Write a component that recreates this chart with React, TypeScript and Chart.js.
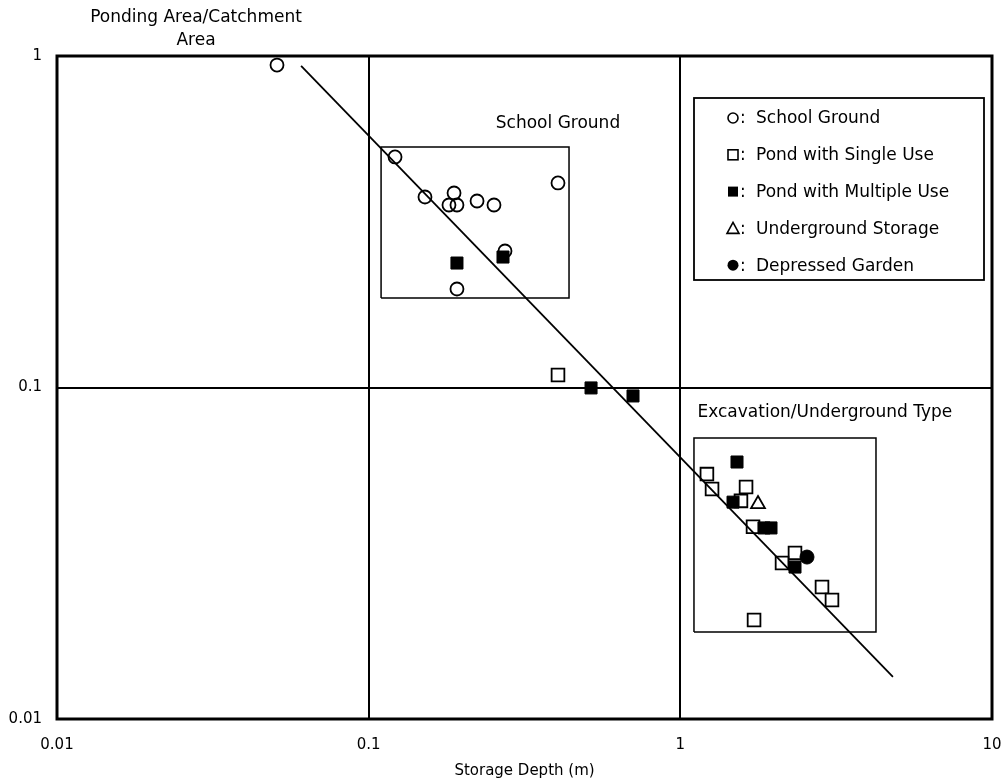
import React, { useEffect, useRef } from "react";
import { Chart, registerables } from "chart.js";

Chart.register(...registerables);

// ---- Data (storage depth in m, ponding area / catchment area) ----
const schoolGroundX = [0.0508, 0.1215, 0.1516, 0.1879, 0.181, 0.192, 0.2227, 0.2524, 0.405, 0.2738, 0.192];
const schoolGroundY = [0.939, 0.496, 0.3756, 0.3861, 0.3552, 0.3552, 0.3652, 0.3552, 0.414, 0.2581, 0.1982];

const pondSingleX = [0.405, 1.217, 1.264, 1.625, 1.565, 1.711, 2.333, 2.12, 2.848, 3.066, 1.724];
const pondSingleY = [0.1091, 0.0548, 0.0494, 0.0501, 0.0455, 0.038, 0.0317, 0.02956, 0.025, 0.02286, 0.01989];

const pondMultiX = [0.192, 0.2698, 0.517, 0.705, 1.52, 1.476, 1.855, 1.954, 2.333];
const pondMultiY = [0.2374, 0.2475, 0.0997, 0.0943, 0.0596, 0.0451, 0.0377, 0.0377, 0.02873];

const undergroundX = [1.775];
const undergroundY = [0.0445];

const gardenX = [2.549];
const gardenY = [0.0308];

const fitLineX = [0.0607, 4.81];
const fitLineY = [0.933, 0.01339];

const schoolBoxX = [0.1096, 0.4394];
const schoolBoxY = [0.1862, 0.5314];
const excavBoxX = [1.106, 4.244];
const excavBoxY = [0.0183, 0.0704];

const xTicks = [0.01, 0.1, 1, 10];
const yTicks = [0.01, 0.1, 1];

const legendLabels = [
  "School Ground",
  "Pond with Single Use",
  "Pond with Multiple Use",
  "Underground Storage",
  "Depressed Garden",
];

const schoolLabel = { text: "School Ground", x: 0.405, y: 0.624 };
const excavLabel = { text: "Excavation/Underground Type", x: 2.91, y: 0.0838 };

const FONT = "'DejaVu Sans', sans-serif";

const pts = (xs: number[], ys: number[]) => xs.map((x, i) => ({ x, y: ys[i] }));
const box = (xs: number[], ys: number[]) => [
  { x: xs[0], y: ys[0] },
  { x: xs[1], y: ys[0] },
  { x: xs[1], y: ys[1] },
  { x: xs[0], y: ys[1] },
  { x: xs[0], y: ys[0] },
];

const overlayPlugin = {
  id: "overlay",
  beforeDatasetsDraw(chart: any) {
    const { ctx, chartArea } = chart;
    ctx.save();
    ctx.strokeStyle = "#000";
    ctx.lineWidth = 3;
    ctx.strokeRect(chartArea.left, chartArea.top, chartArea.right - chartArea.left, chartArea.bottom - chartArea.top);
    ctx.restore();
  },
  afterDraw(chart: any) {
    const { ctx, chartArea, scales } = chart;
    const sx = scales.x;
    const sy = scales.y;
    ctx.save();
    ctx.fillStyle = "#000";
    ctx.strokeStyle = "#000";

    // Axis titles
    ctx.font = `17px ${FONT}`;
    ctx.textAlign = "center";
    ctx.textBaseline = "middle";
    ctx.fillText("Ponding Area/Catchment", 196, chartArea.top - 38);
    ctx.fillText("Area", 196, chartArea.top - 15);
    ctx.font = `15px ${FONT}`;
    ctx.fillText("Storage Depth (m)", (chartArea.left + chartArea.right) / 2, chartArea.bottom + 52);

    // Annotation labels
    ctx.font = `17px ${FONT}`;
    ctx.fillText(schoolLabel.text, sx.getPixelForValue(schoolLabel.x), sy.getPixelForValue(schoolLabel.y));
    ctx.fillText(excavLabel.text, sx.getPixelForValue(excavLabel.x), sy.getPixelForValue(excavLabel.y));

    // Legend box
    const lx0 = chartArea.right - 298;
    const lx1 = chartArea.right - 8;
    const ly0 = chartArea.top + 42;
    const ly1 = chartArea.top + 224;
    ctx.lineWidth = 1.8;
    ctx.fillStyle = "#fff";
    ctx.fillRect(lx0, ly0, lx1 - lx0, ly1 - ly0);
    ctx.strokeRect(lx0, ly0, lx1 - lx0, ly1 - ly0);
    ctx.fillStyle = "#000";
    ctx.textAlign = "left";
    legendLabels.forEach((lab, i) => {
      const cy = ly0 + 20 + i * 36.8;
      const cx = lx0 + 39;
      ctx.lineWidth = 1.6;
      ctx.beginPath();
      if (i === 0) {
        ctx.arc(cx, cy, 5, 0, Math.PI * 2);
        ctx.stroke();
      } else if (i === 1) {
        ctx.strokeRect(cx - 5, cy - 5, 10, 10);
      } else if (i === 2) {
        ctx.fillRect(cx - 5, cy - 5, 10, 10);
      } else if (i === 3) {
        ctx.moveTo(cx, cy - 6);
        ctx.lineTo(cx + 6, cy + 5);
        ctx.lineTo(cx - 6, cy + 5);
        ctx.closePath();
        ctx.stroke();
      } else {
        ctx.arc(cx, cy, 5.5, 0, Math.PI * 2);
        ctx.fill();
      }
      ctx.font = `17px ${FONT}`;
      ctx.fillText(":", cx + 7, cy + 1);
      ctx.fillText(lab, cx + 23, cy + 1);
    });
    ctx.restore();
  },
};

export default function App() {
  const ref = useRef<HTMLCanvasElement | null>(null);

  useEffect(() => {
    if (!ref.current) return;
    const lineStyle = { showLine: true, pointRadius: 0, borderColor: "#000", fill: false, tension: 0 };
    const chart = new Chart(ref.current, {
      type: "scatter",
      data: {
        datasets: [
          { label: "fit", data: pts(fitLineX, fitLineY), borderWidth: 1.8, order: 0, ...lineStyle } as any,
          { label: "schoolBox", data: box(schoolBoxX, schoolBoxY), borderWidth: 1.5, order: 1, ...lineStyle } as any,
          { label: "excavBox", data: box(excavBoxX, excavBoxY), borderWidth: 1.5, order: 1, ...lineStyle } as any,
          {
            label: "Depressed Garden",
            data: pts(gardenX, gardenY),
            pointStyle: "circle",
            pointRadius: 7,
            backgroundColor: "#000",
            borderColor: "#000",
            borderWidth: 1,
            order: 2,
          },
          {
            label: "Pond with Multiple Use",
            data: pts(pondMultiX, pondMultiY),
            pointStyle: "rect",
            pointRadius: 8.5,
            backgroundColor: "#000",
            borderColor: "#000",
            borderWidth: 1,
            order: 3,
          },
          {
            label: "Underground Storage",
            data: pts(undergroundX, undergroundY),
            pointStyle: "triangle",
            pointRadius: 8,
            backgroundColor: "rgba(255,255,255,0)",
            borderColor: "#000",
            borderWidth: 1.8,
            order: 4,
          },
          {
            label: "Pond with Single Use",
            data: pts(pondSingleX, pondSingleY),
            pointStyle: "rect",
            pointRadius: 9,
            backgroundColor: "#fff",
            borderColor: "#000",
            borderWidth: 1.8,
            order: 5,
          },
          {
            label: "School Ground",
            data: pts(schoolGroundX, schoolGroundY),
            pointStyle: "circle",
            pointRadius: 6.5,
            backgroundColor: "rgba(255,255,255,0)",
            borderColor: "#000",
            borderWidth: 1.8,
            order: 6,
          },
        ],
      },
      options: {
        responsive: false,
        animation: false,
        devicePixelRatio: 1,
        layout: { padding: { top: 56, right: 16, left: 0, bottom: 0 } },
        plugins: { legend: { display: false }, tooltip: { enabled: false } },
        scales: {
          x: {
            type: "logarithmic",
            min: 0.01,
            max: 10,
            afterBuildTicks: (s: any) => {
              s.ticks = xTicks.map((v) => ({ value: v }));
            },
            afterFit: (s: any) => {
              s.height = 63;
              s.paddingRight = 0;
              s.paddingLeft = 0;
            },
            ticks: {
              callback: (v: any) => String(v),
              color: "#000",
              font: { family: FONT, size: 15 },
              padding: 17,
              maxRotation: 0,
              autoSkip: false,
            },
            grid: { color: "#000", lineWidth: 2, drawTicks: false },
            border: { display: false },
          },
          y: {
            type: "logarithmic",
            min: 0.01,
            max: 1,
            afterBuildTicks: (s: any) => {
              s.ticks = yTicks.map((v) => ({ value: v }));
            },
            afterFit: (s: any) => {
              s.width = 57;
              s.paddingTop = 0;
              s.paddingBottom = 0;
            },
            ticks: {
              callback: (v: any) => String(v),
              color: "#000",
              font: { family: FONT, size: 15 },
              padding: 15,
              autoSkip: false,
            },
            grid: { color: "#000", lineWidth: 2, drawTicks: false },
            border: { display: false },
          },
        },
      } as any,
      plugins: [overlayPlugin],
    });
    return () => chart.destroy();
  }, []);

  return (
    <div style={{ position: "absolute", left: 0, top: 0, width: 1008, height: 782, background: "#fff" }}>
      <canvas ref={ref} width={1008} height={782} style={{ display: "block" }} />
    </div>
  );
}
